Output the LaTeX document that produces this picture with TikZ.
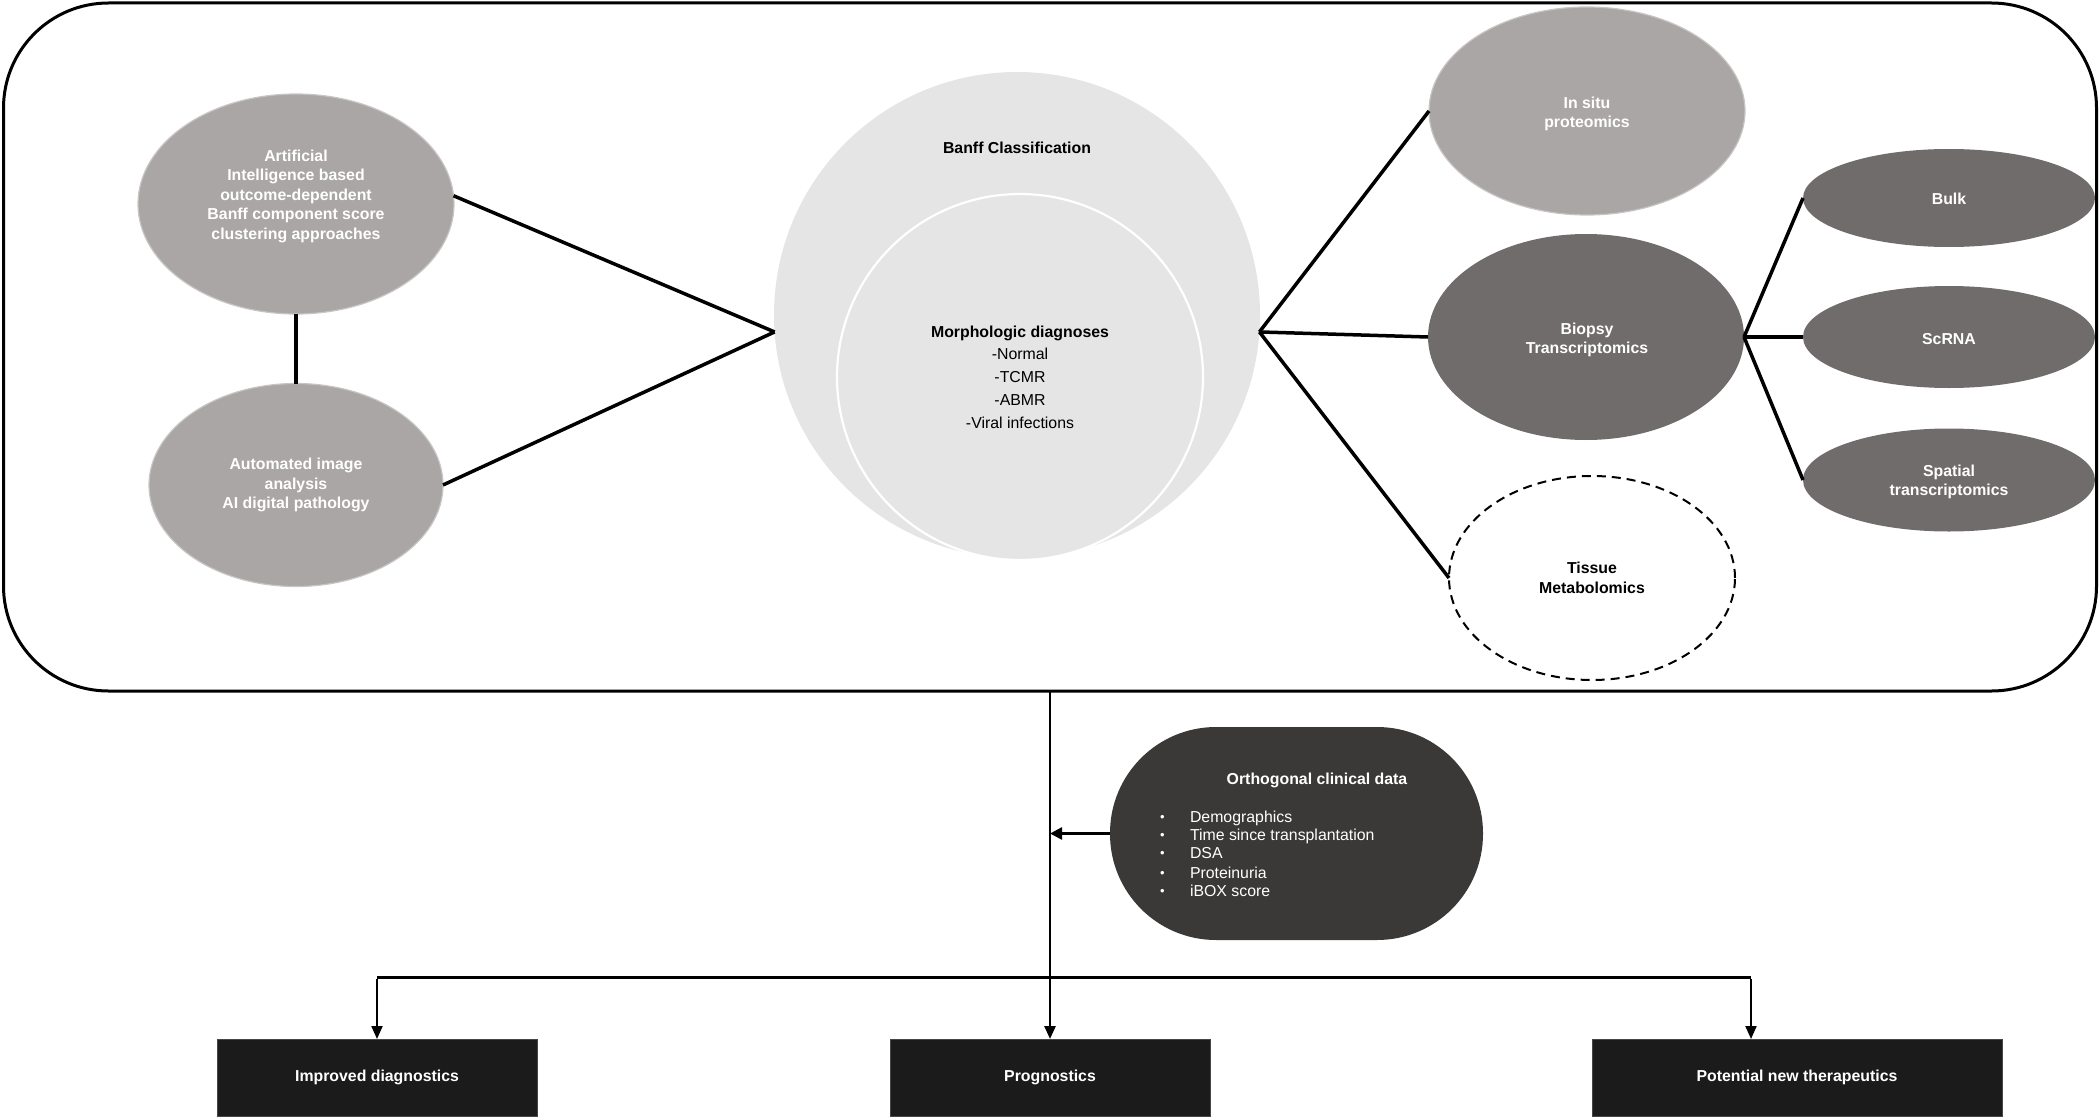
\documentclass[tikz,border=0pt]{standalone}
\usepackage{fontspec}
\setmainfont{Liberation Sans}
\usetikzlibrary{shapes.geometric,arrows.meta,calc}
\definecolor{lg}{RGB}{170,166,165}
\definecolor{lgedge}{RGB}{200,197,196}
\definecolor{dg}{RGB}{112,108,107}
\definecolor{bf}{RGB}{229,229,229}
\definecolor{og}{RGB}{58,57,55}
\definecolor{bx}{RGB}{27,27,27}
\definecolor{bxedge}{RGB}{70,70,70}
\begin{document}
\begin{tikzpicture}[x=1pt,y=-1pt,
  every node/.style={outer sep=0pt, inner sep=0pt},
  txt/.style={font=\fontsize{15.85}{19.5}\selectfont},
  btxt/.style={align=center, font=\bfseries\fontsize{15.85}{19.5}\selectfont},
  ell/.style={ellipse, align=center, font=\bfseries\fontsize{15.85}{19.5}\selectfont},
  lgell/.style={ell, fill=lg, draw=lgedge, line width=1.2pt, text=white},
  dgell/.style={ell, fill=dg, draw=none, text=white},
  conn/.style={line width=3.5pt, black},
  flow/.style={line width=2.5pt, black},
  tip/.style={-{Triangle[length=13pt,width=11pt]}},
  outbox/.style={rectangle, fill=bx, draw=bxedge, line width=1pt, text=white,
    font=\bfseries\fontsize{15.85}{19.5}\selectfont, minimum height=77pt},
  bul/.style={txt, text=white, anchor=base west}
]
\useasboundingbox (0,0) rectangle (2100,1118);

% frame
\node[rectangle, draw=black, line width=3pt, rounded corners=105pt,
  minimum width=2093pt, minimum height=688pt] (frame) at (1050,347) {};

% left ellipses
\node[lgell, minimum width=316pt, minimum height=220pt] (ai) at (296,204) {};
\node[btxt, text=white] (aitxt) at (296,196)
  {Artificial\\Intelligence based\\outcome-dependent\\Banff component score\\clustering approaches};
\node[lgell, minimum width=294pt, minimum height=203pt] (auto) at (296,485)
  {Automated image\\analysis\\AI digital pathology};

% Banff circles
\node[circle, fill=bf, minimum size=486pt] (banff) at (1017,315) {};
\node[btxt] (btitle) at (1017,148) {Banff Classification};
\node[circle, fill=bf, draw=white, line width=2.2pt, minimum size=366pt, align=center,
  font=\fontsize{15.85}{22.7}\selectfont] (morph) at (1020,377)
  {\textbf{Morphologic diagnoses}\\-Normal\\-TCMR\\-ABMR\\-Viral infections};

% right ellipses
\node[lgell, minimum width=316pt, minimum height=208pt] (insitu) at (1587,111) {};
\node[btxt, text=white] (insitutxt) at (1587,114) {In situ\\proteomics};
\node[dgell, minimum width=316pt, minimum height=206pt] (biopsy) at (1586,337) {};
\node[btxt, text=white] (biopsytxt) at (1587,340) {Biopsy\\Transcriptomics};
\node[ell, draw=black, line width=2pt, dash pattern=on 9pt off 6pt, minimum width=286pt,
  minimum height=204pt, text=black] (tissue) at (1592,578) {Tissue\\Metabolomics};
\node[dgell, minimum width=292pt, minimum height=98pt] (bulk) at (1949,198) {};
\node[btxt, text=white] (bulktxt) at (1949,199) {Bulk};
\node[dgell, minimum width=292pt, minimum height=102pt] (scrna) at (1949,337) {};
\node[btxt, text=white] (scrnatxt) at (1949,339) {ScRNA};
\node[dgell, minimum width=292pt, minimum height=103pt] (spatial) at (1949,480) {};
\node[btxt, text=white] (spatialtxt) at (1949,482) {Spatial\\transcriptomics};

% connectors in frame
\draw[conn] (ai.south) -- (auto.north);
\draw[conn] (ai.3) -- (banff.184);
\draw[conn] (auto.east) -- (banff.184);
\draw[conn] (banff.-4) -- (insitu.west);
\draw[conn] (banff.-4) -- (biopsy.west);
\draw[conn] (banff.-4) -- (tissue.west);
\draw[conn] (biopsy.east) -- (bulk.west);
\draw[conn] (biopsy.east) -- (scrna.west);
\draw[conn] (biopsy.east) -- (spatial.west);

% orthogonal clinical data
\node[rectangle, fill=og, rounded corners=106pt, minimum width=373pt, minimum height=213pt] (ortho) at (1296.5,833.5) {};
\node[btxt, text=white] (otitle) at (1317,780) {Orthogonal clinical data};
\node[bul] (o1) at (1160,822) {\makebox[30pt][l]{\fontsize{13}{13}\selectfont\raisebox{1pt}{•}}Demographics};
\node[bul] (o2) at (1160,840) {\makebox[30pt][l]{\fontsize{13}{13}\selectfont\raisebox{1pt}{•}}Time since transplantation};
\node[bul] (o3) at (1160,858) {\makebox[30pt][l]{\fontsize{13}{13}\selectfont\raisebox{1pt}{•}}DSA};
\node[bul] (o4) at (1160,878) {\makebox[30pt][l]{\fontsize{13}{13}\selectfont\raisebox{1pt}{•}}Proteinuria};
\node[bul] (o5) at (1160,896) {\makebox[30pt][l]{\fontsize{13}{13}\selectfont\raisebox{1pt}{•}}iBOX score};

% outcome boxes
\node[outbox, minimum width=320pt] (b1) at (377,1077.5) {Improved diagnostics};
\node[outbox, minimum width=320pt] (b2) at (1050,1077.5) {Prognostics};
\node[outbox, minimum width=410pt] (b3) at (1797,1077.5) {Potential new therapeutics};

% bottom flow
\coordinate (jn) at (1050,977);
\coordinate (hr) at (1751,977);
\draw[flow, tip] (frame.south) -- (b2.north);
\draw[flow, -{Triangle[length=12pt,width=12pt]}] (ortho.west) -- (ortho.west -| frame.south);
\draw[line width=3pt] (b1.north |- jn) -- (hr);
\draw[line width=2pt, tip] ([yshift=-1.5pt]b1.north |- jn) -- (b1.north);
\draw[line width=2pt, tip] ([yshift=-1.5pt]hr) -- (hr |- b3.north);
\end{tikzpicture}
\end{document}
